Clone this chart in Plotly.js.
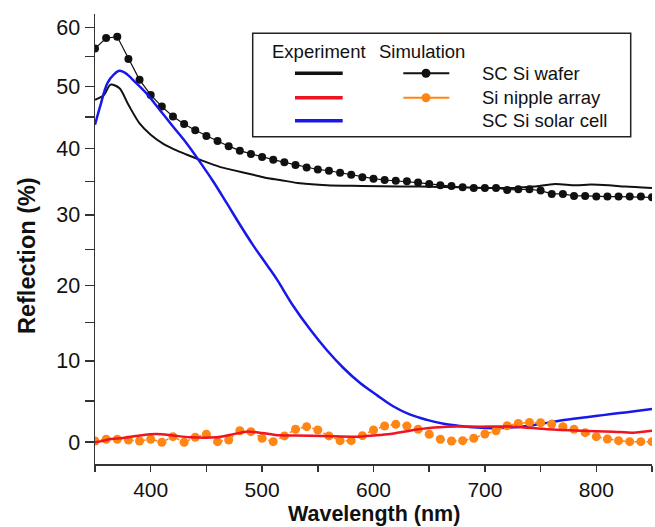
<!DOCTYPE html>
<html>
<head>
<meta charset="utf-8">
<script src="https://cdn.plot.ly/plotly-3.0.1.min.js"></script>
<style>html,body{margin:0;padding:0;background:#fff}#chart{width:655px;height:527px}</style>
</head>
<body>
<div id="chart"></div>
<script>
// ---------- data ----------
// Simulation, SC Si wafer (every 10 nm)
const simWaferX = [350,360,370,380,390,400,410,420,430,440,450,460,470,480,490,500,510,520,530,540,550,560,570,580,590,600,610,620,630,640,650,660,670,680,690,700,710,720,730,740,750,760,770,780,790,800,810,820,830,840,850];
const simWaferY = [56.4,58.2,58.4,54.6,51.1,48.6,46.7,45.1,43.9,42.9,42.0,41.2,40.4,39.7,39.2,38.7,38.3,37.9,37.5,37.1,36.8,36.6,36.3,36.0,35.6,35.4,35.2,35.1,35.0,34.8,34.6,34.4,34.3,34.1,34.0,34.0,34.0,33.7,33.8,33.8,33.6,33.1,33.1,32.8,32.8,32.7,32.7,32.7,32.7,32.7,32.6];

// Experiment, SC Si wafer
const expWaferX = [350,358,364,372,380,390,400,411,421,432,444,462,474,492,504,516,534,558,590,624,642,680,700,726,744,763,781,795,811,826,850];
const expWaferY = [47.8,48.6,50.3,49.7,47.0,44.0,42.2,40.8,39.9,39.1,38.3,37.2,36.7,36.0,35.5,35.2,34.7,34.4,34.3,34.2,34.2,34.1,34.0,34.0,34.2,34.6,34.4,34.5,34.4,34.2,34.0];

// Experiment, SC Si solar cell
const expCellX = [350,355,361,367,372,379,384,396,408,420,432,444,456,468,480,492,504,513,528,543,558,573,588,603,618,633,648,663,678,693,708,723,738,753,768,791,806,821,836,850];
const expCellY = [43.8,47.0,50.5,52.0,52.6,52.0,51.1,48.9,46.2,43.5,40.9,38.0,35.0,31.8,28.6,25.6,22.9,20.9,17.2,14.1,11.4,9.1,7.2,5.7,4.3,3.3,2.67,2.2,1.93,1.75,1.68,1.75,1.95,2.25,2.6,3.0,3.25,3.5,3.75,4.0];

// Experiment, Si nipple array
const expNippleX = [350,355,363,375,390,405,420,435,459,472,486,500,512,530,555,585,600,615,636,650,666,696,726,756,786,815,833,850];
const expNippleY = [0.0,0.1,0.36,0.5,0.8,0.98,0.8,0.59,0.59,0.9,1.26,1.1,0.87,0.8,0.75,0.66,0.8,0.98,1.46,1.7,1.86,1.86,1.86,1.54,1.37,1.26,1.14,1.37];

// Simulation, Si nipple array (every 10 nm)
const simNippleX = simWaferX;
const simNippleY = [0.15,0.36,0.36,0.27,0.15,0.36,0.0,0.66,0.0,0.59,0.95,0.07,0.27,1.37,1.26,0.47,0.07,0.75,1.54,1.86,1.46,0.75,0.19,0.19,0.78,1.46,1.93,2.14,1.93,1.54,0.95,0.36,0.15,0.19,0.47,0.98,1.37,1.97,2.25,2.37,2.33,2.17,1.86,1.54,1.14,0.66,0.39,0.19,0.07,0.07,0.07];

const yTickValues = [0,5,10,15,20,25,30,35,40,45,50,55,60];
const yTickLabels = ['0','','10','','20','','30','','40','','50','','60'];
const xTickValues = [350,400,450,500,550,600,650,700,750,800,850];
const xTickLabels = ['','400','','500','','600','','700','','800',''];

const legendLabels = ['SC Si wafer','Si nipple array','SC Si solar cell'];

// ---------- styling / layout ----------
// the reference's vertical scale is compressed towards the top; it is reproduced
// with a log axis on (value + OFFSET)
const OFFSET = 126;
const sh = v => v + OFFSET;

const BLACK = '#111111', RED = '#f01423', BLUE = '#1818e8', ORANGE = '#ff8514';
const FONT = 'Liberation Sans, Arial, sans-serif';

const W = 655, H = 527, M = {l:95, r:3, t:14, b:63};
const px2x = p => (p - M.l) / (W - M.l - M.r);
const px2y = p => (H - M.b - p) / (H - M.t - M.b);

const traces = [
  {x: simWaferX, y: simWaferY.map(sh), mode: 'lines+markers', name: 'SC Si wafer (sim)',
   line: {color: BLACK, width: 1.2}, marker: {color: BLACK, size: 8}},
  {x: expWaferX, y: expWaferY.map(sh), mode: 'lines', name: 'SC Si wafer (exp)',
   line: {color: BLACK, width: 2, shape: 'spline', smoothing: 0.8}},
  {x: expCellX, y: expCellY.map(sh), mode: 'lines', name: 'SC Si solar cell (exp)',
   line: {color: BLUE, width: 2.5, shape: 'spline', smoothing: 1}},
  {x: simNippleX, y: simNippleY.map(sh), mode: 'lines+markers', name: 'Si nipple array (sim)',
   line: {color: ORANGE, width: 1.5, dash: 'dot'}, marker: {color: ORANGE, size: 9}},
  {x: expNippleX, y: expNippleY.map(sh), mode: 'lines', name: 'Si nipple array (exp)',
   line: {color: RED, width: 2.5, shape: 'spline', smoothing: 0.8}}
];

const yRange = [Math.log10(sh(-2.55)), Math.log10(sh(62.4))];
const axisLine = {showline: true, linecolor: '#333', linewidth: 1.5, showgrid: false, zeroline: false, tickcolor: '#333', tickwidth: 1.5};

const shapes = [];
const annotations = [];
const LEG_FONT = {family: FONT, size: 18.5, color: '#111'};
// legend box
shapes.push({type: 'rect', xref: 'paper', yref: 'paper', x0: px2x(252.7), x1: px2x(630.7), y0: px2y(136.7), y1: px2y(33.3),
  line: {color: '#222', width: 1.5}, fillcolor: 'rgba(255,255,255,0)'});
annotations.push({xref: 'paper', yref: 'paper', x: px2x(270), y: px2y(51.7), xanchor: 'left', yanchor: 'middle', showarrow: false,
  text: 'Experiment', font: LEG_FONT});
annotations.push({xref: 'paper', yref: 'paper', x: px2x(377), y: px2y(51.7), xanchor: 'left', yanchor: 'middle', showarrow: false,
  text: 'Simulation', font: LEG_FONT});
const rowsY = [73.3, 97.7, 120.7];
const expColors = [BLACK, RED, BLUE];
rowsY.forEach((ry, i) => {
  shapes.push({type: 'line', xref: 'paper', yref: 'paper', x0: px2x(295), x1: px2x(342.7), y0: px2y(ry), y1: px2y(ry),
    line: {color: expColors[i], width: 3.5}});
  annotations.push({xref: 'paper', yref: 'paper', x: px2x(480), y: px2y(ry), xanchor: 'left', yanchor: 'middle', showarrow: false,
    text: legendLabels[i], font: LEG_FONT});
});
const simColors = [BLACK, ORANGE];
[0,1].forEach(i => {
  const ry = rowsY[i];
  shapes.push({type: 'line', xref: 'paper', yref: 'paper', x0: px2x(403.3), x1: px2x(449.3), y0: px2y(ry), y1: px2y(ry),
    line: {color: simColors[i], width: 2}});
  shapes.push({type: 'circle', xref: 'paper', yref: 'paper', x0: px2x(421.5), x1: px2x(430.5), y0: px2y(ry + 4.5), y1: px2y(ry - 4.5),
    line: {color: simColors[i], width: 0}, fillcolor: simColors[i]});
});
// axis titles
annotations.push({xref: 'paper', yref: 'paper', x: px2x(27), y: px2y(256), xanchor: 'center', yanchor: 'middle', showarrow: false,
  textangle: -90, text: '<b>Reflection (%)</b>', font: {family: FONT, size: 23.5, color: '#111'}});
annotations.push({xref: 'paper', yref: 'paper', x: px2x(374), y: px2y(514), xanchor: 'center', yanchor: 'middle', showarrow: false,
  borderpad: 0, text: '<b>Wavelength (nm)</b>', font: {family: FONT, size: 21.5, color: '#111'}});

const layout = {
  width: W, height: H, margin: M,
  paper_bgcolor: '#fff', plot_bgcolor: '#fff',
  showlegend: false,
  font: {family: FONT, color: '#111'},
  xaxis: Object.assign({}, axisLine, {range: [350, 850], tickmode: 'array', tickvals: xTickValues, ticktext: xTickLabels,
    ticks: 'outside', ticklen: 6, tickfont: {family: FONT, size: 21, color: '#111'}}),
  xaxis2: Object.assign({}, axisLine, {overlaying: 'x', side: 'top', anchor: 'y', range: [350, 850], tickmode: 'array',
    tickvals: xTickValues, ticks: 'inside', ticklen: 9, showticklabels: false}),
  yaxis: Object.assign({}, axisLine, {type: 'log', range: yRange, tickmode: 'array', tickvals: yTickValues.map(sh), ticktext: yTickLabels,
    ticks: 'outside', ticklen: 9, tickfont: {family: FONT, size: 21.5, color: '#111'}}),
  yaxis2: Object.assign({}, axisLine, {type: 'log', overlaying: 'y', side: 'right', anchor: 'x', range: yRange, tickmode: 'array',
    tickvals: yTickValues.map(sh), ticks: 'inside', ticklen: 8, showticklabels: false}),
  shapes: shapes,
  annotations: annotations
};

Plotly.newPlot('chart', traces, layout, {displayModeBar: false, staticPlot: true});
</script>
</body>
</html>
